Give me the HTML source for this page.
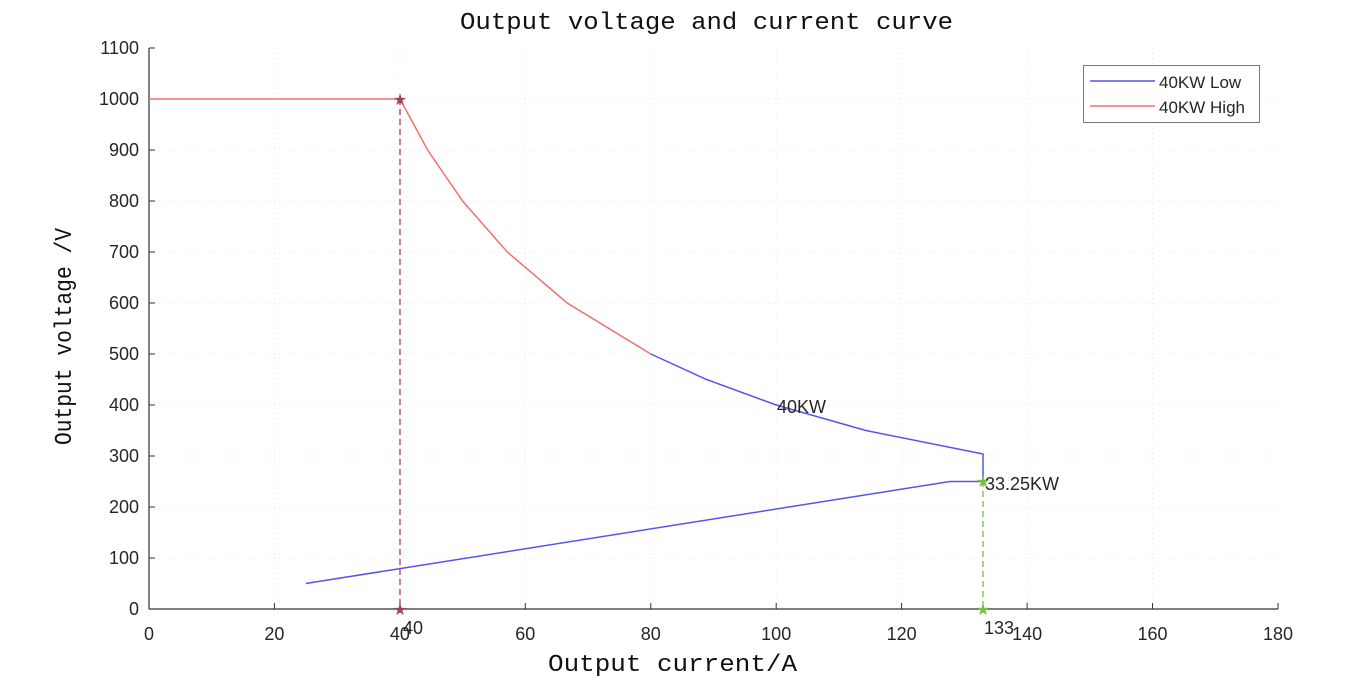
<!DOCTYPE html>
<html><head><meta charset="utf-8"><style>body{margin:0;background:#fff}svg{display:block}</style></head><body>
<svg width="1372" height="679" xmlns="http://www.w3.org/2000/svg">
<rect width="1372" height="679" fill="#fff"/>
<g stroke="#e4e4e4" stroke-dasharray="1,4" stroke-width="1">
<line x1="274.4" y1="48" x2="274.4" y2="609"/><line x1="399.9" y1="48" x2="399.9" y2="609"/><line x1="525.3" y1="48" x2="525.3" y2="609"/><line x1="650.8" y1="48" x2="650.8" y2="609"/><line x1="776.2" y1="48" x2="776.2" y2="609"/><line x1="901.6" y1="48" x2="901.6" y2="609"/><line x1="1027.1" y1="48" x2="1027.1" y2="609"/><line x1="1152.5" y1="48" x2="1152.5" y2="609"/>
<line x1="149" y1="558" x2="1278" y2="558"/><line x1="149" y1="507" x2="1278" y2="507"/><line x1="149" y1="456" x2="1278" y2="456"/><line x1="149" y1="405" x2="1278" y2="405"/><line x1="149" y1="354" x2="1278" y2="354"/><line x1="149" y1="303" x2="1278" y2="303"/><line x1="149" y1="252" x2="1278" y2="252"/><line x1="149" y1="201" x2="1278" y2="201"/><line x1="149" y1="150" x2="1278" y2="150"/><line x1="149" y1="99" x2="1278" y2="99"/>
</g>
<g stroke="#333" stroke-width="1.2" fill="none">
<line x1="149" y1="609" x2="1278" y2="609"/><line x1="149" y1="48" x2="149" y2="609"/>
</g>
<g stroke="#333" stroke-width="1">
<line x1="274.4" y1="609" x2="274.4" y2="603"/><line x1="399.9" y1="609" x2="399.9" y2="603"/><line x1="525.3" y1="609" x2="525.3" y2="603"/><line x1="650.8" y1="609" x2="650.8" y2="603"/><line x1="776.2" y1="609" x2="776.2" y2="603"/><line x1="901.6" y1="609" x2="901.6" y2="603"/><line x1="1027.1" y1="609" x2="1027.1" y2="603"/><line x1="1152.5" y1="609" x2="1152.5" y2="603"/><line x1="1278" y1="609" x2="1278" y2="603"/>
<line x1="149" y1="558" x2="155" y2="558"/><line x1="149" y1="507" x2="155" y2="507"/><line x1="149" y1="456" x2="155" y2="456"/><line x1="149" y1="405" x2="155" y2="405"/><line x1="149" y1="354" x2="155" y2="354"/><line x1="149" y1="303" x2="155" y2="303"/><line x1="149" y1="252" x2="155" y2="252"/><line x1="149" y1="201" x2="155" y2="201"/><line x1="149" y1="150" x2="155" y2="150"/><line x1="149" y1="99" x2="155" y2="99"/><line x1="149" y1="48" x2="155" y2="48"/>
</g>
<g font-family="Liberation Sans, sans-serif" font-size="18" fill="#262626" text-anchor="middle">
<text x="149" y="640">0</text><text x="274.4" y="640">20</text><text x="399.9" y="640">40</text><text x="525.3" y="640">60</text><text x="650.8" y="640">80</text><text x="776.2" y="640">100</text><text x="901.6" y="640">120</text><text x="1027.1" y="640">140</text><text x="1152.5" y="640">160</text><text x="1278" y="640">180</text>
</g>
<g font-family="Liberation Sans, sans-serif" font-size="18" fill="#262626" text-anchor="end">
<text x="139" y="615">0</text><text x="139" y="564">100</text><text x="139" y="513">200</text><text x="139" y="462">300</text><text x="139" y="411">400</text><text x="139" y="360">500</text><text x="139" y="309">600</text><text x="139" y="258">700</text><text x="139" y="207">800</text><text x="139" y="156">900</text><text x="139" y="105">1000</text><text x="139" y="54">1100</text>
</g>
<text x="460" y="29" textLength="493" lengthAdjust="spacingAndGlyphs" font-family="Liberation Mono, monospace" font-size="24" fill="#111">Output voltage and current curve</text>
<text x="548" y="671" textLength="249" lengthAdjust="spacingAndGlyphs" font-family="Liberation Mono, monospace" font-size="24" fill="#111">Output current/A</text>
<text transform="translate(71,445) rotate(-90)" textLength="217" lengthAdjust="spacingAndGlyphs" font-family="Liberation Mono, monospace" font-size="24" fill="#111">Output voltage /V</text>
<line x1="400" y1="99" x2="400" y2="609" stroke="#a0405a" stroke-width="1.3" stroke-dasharray="6,4"/>
<line x1="983" y1="481" x2="983" y2="609" stroke="#77c040" stroke-width="1.3" stroke-dasharray="6,4"/>
<polyline fill="none" stroke="#f07070" stroke-width="1.5" points="149,99 400,99 427.6,150 462.6,201 507.3,252 567.2,303 650.8,354"/>
<polyline fill="none" stroke="#5555ee" stroke-width="1.5" points="650.8,354 706.6,379.5 776.2,405 865.9,430.5 983,454 983,481.5 950,481.5 305.8,583.5"/>
<g font-size="16" text-anchor="middle" font-family="DejaVu Sans, sans-serif">
<text x="400" y="105" fill="#a0405a">★</text><text x="400" y="615" fill="#a0405a">★</text>
<text x="983" y="487" fill="#77c040">★</text><text x="983" y="615" fill="#77c040">★</text>
</g>
<g font-family="Liberation Sans, sans-serif" font-size="18" fill="#262626">
<text x="403" y="634">40</text><text x="984" y="634">133</text>
<text x="777" y="413">40KW</text><text x="985" y="490">33.25KW</text>
</g>
<rect x="1083.5" y="65.5" width="176" height="57" fill="#fff" stroke="#777"/>
<line x1="1090" y1="81" x2="1155" y2="81" stroke="#5555ee" stroke-width="1.5"/>
<line x1="1090" y1="106" x2="1155" y2="106" stroke="#f07070" stroke-width="1.5"/>
<g font-family="Liberation Sans, sans-serif" font-size="17" fill="#262626">
<text x="1159" y="88">40KW Low</text><text x="1159" y="113">40KW High</text>
</g>
</svg>
</body></html>
